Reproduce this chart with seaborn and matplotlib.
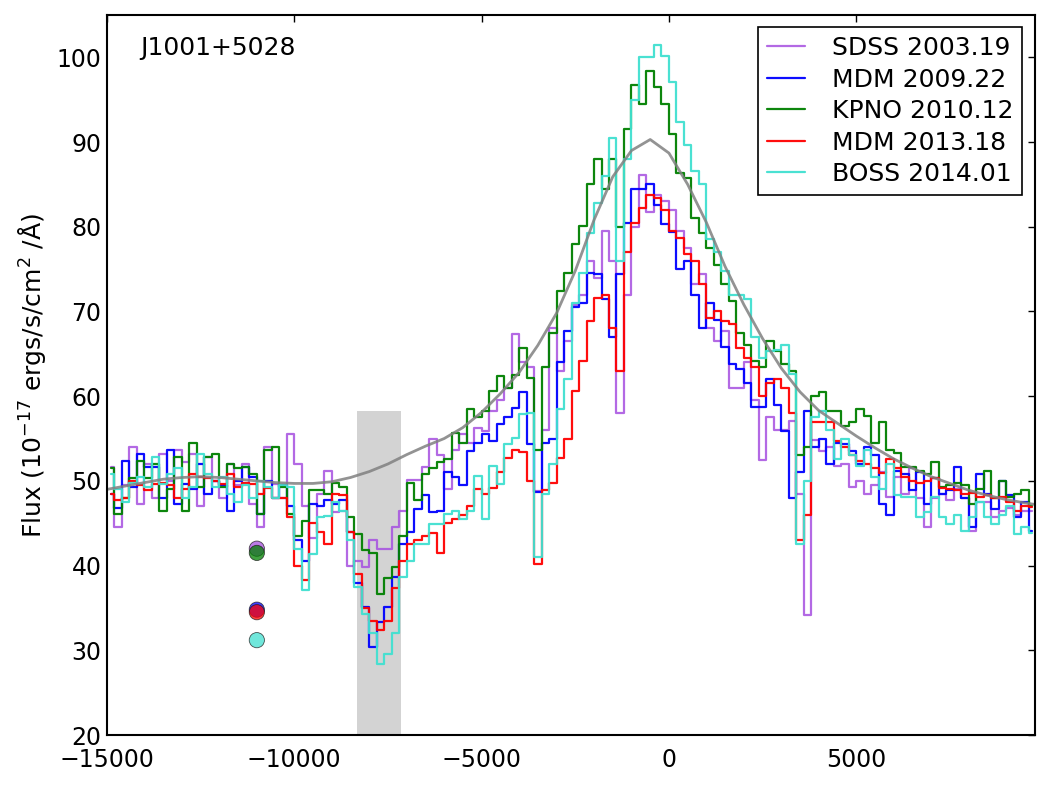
import numpy as np
import matplotlib
matplotlib.use("Agg")
import matplotlib.pyplot as plt
import seaborn as sns

sns.set_theme(style="white")
plt.rcParams['font.family'] = ['DejaVu Sans']
plt.rcParams['font.size'] = 18
plt.rcParams['text.color'] = 'black'
plt.rcParams['axes.labelcolor'] = 'black'
plt.rcParams['xtick.color'] = 'black'
plt.rcParams['ytick.color'] = 'black'
plt.rcParams['xtick.direction'] = 'in'
plt.rcParams['ytick.direction'] = 'in'
plt.rcParams['xtick.top'] = True
plt.rcParams['ytick.right'] = True
plt.rcParams['axes.edgecolor'] = 'black'
plt.rcParams['axes.linewidth'] = 1.5

# bin centres of the spectra (km/s), 200 km/s wide
vel = np.arange(-14900, 9800, 200)

sdss_2003 = [
    51.6, 44.5, 49.5, 54.0, 47.3, 52.0, 48.0, 53.2, 50.0, 53.6,
    52.2, 53.2, 47.0, 52.8, 50.0, 48.0, 52.0, 49.5, 52.0, 47.3,
    44.5, 54.0, 49.6, 48.0, 55.5, 52.0, 47.0, 43.3, 48.5, 51.2,
    46.3, 46.5, 40.0, 40.6, 39.8, 43.0, 42.0, 42.0, 44.5, 46.5,
    50.1, 50.1, 51.6, 55.0, 53.0, 49.0, 53.6, 55.5, 54.5, 56.3,
    55.9, 58.3, 59.5, 61.0, 67.3, 64.0, 63.5, 48.8, 56.0, 68.0,
    63.0, 66.5, 70.8, 72.0, 75.9, 74.0, 79.5, 76.0, 58.0, 72.0,
    80.0, 86.1, 81.8, 83.8, 83.0, 82.0, 79.5, 77.5, 73.2, 74.4,
    68.1, 66.5, 67.7, 61.0, 61.0, 64.0, 59.5, 52.5, 57.5, 56.0,
    56.0, 57.1, 48.5, 34.2, 54.8, 53.5, 54.0, 51.8, 52.0, 49.3,
    50.0, 48.4, 49.5, 51.0, 48.1, 50.5, 48.5, 51.5, 48.0, 44.5,
    48.0, 48.5, 47.8, 49.0, 48.0, 44.1, 47.5, 47.5, 45.7, 46.5,
    46.8, 46.0, 46.5, 46.5,
]

mdm_2009 = [
    48.5, 46.8, 52.4, 49.3, 53.2, 51.6, 51.6, 48.0, 53.6, 47.3,
    49.6, 49.0, 52.0, 48.5, 50.0, 49.5, 46.5, 50.0, 51.6, 50.5,
    46.1, 50.0, 48.0, 49.5, 47.0, 43.0, 40.5, 47.3, 47.0, 47.7,
    47.3, 47.7, 44.0, 38.0, 35.1, 30.4, 33.3, 35.1, 38.6, 42.6,
    44.0, 46.7, 48.3, 46.3, 46.5, 51.0, 50.5, 49.5, 53.5, 54.5,
    55.5, 54.7, 56.7, 57.5, 58.6, 60.5, 54.3, 48.7, 54.5, 55.0,
    64.0, 67.7, 70.5, 71.0, 74.5, 74.4, 71.5, 67.0, 74.4, 80.5,
    84.4, 84.5, 85.0, 82.6, 80.3, 79.4, 75.0, 76.0, 72.0, 68.0,
    71.0, 69.0, 65.8, 63.8, 63.2, 61.5, 58.7, 58.7, 62.0, 59.0,
    55.9, 48.0, 51.0, 58.3, 54.0, 55.0, 52.0, 54.5, 54.3, 53.5,
    52.0, 54.0, 53.0, 47.3, 46.0, 51.2, 50.8, 48.9, 51.0, 47.3,
    50.4, 48.5, 48.9, 51.6, 48.0, 44.5, 50.8, 48.5, 46.7, 50.0,
    48.3, 45.7, 47.5, 44.1,
]

kpno_2010 = [
    51.5, 46.1, 48.0, 50.3, 52.4, 50.4, 52.0, 46.5, 49.0, 52.8,
    46.5, 54.5, 49.3, 52.8, 53.2, 49.3, 52.0, 51.5, 51.6, 50.8,
    46.1, 53.6, 54.0, 49.3, 46.1, 43.5, 45.3, 48.9, 48.9, 48.5,
    49.7, 49.3, 45.7, 43.7, 41.8, 41.5, 36.7, 38.5, 39.8, 43.5,
    49.7, 47.7, 50.8, 51.5, 52.2, 52.6, 55.7, 54.5, 58.5, 57.5,
    58.3, 60.6, 62.4, 61.0, 62.5, 65.7, 62.2, 53.6, 63.5, 67.5,
    72.4, 74.5, 78.0, 80.1, 85.0, 88.0, 84.5, 88.0, 80.0, 91.5,
    96.7, 94.5, 98.4, 96.5, 94.5, 91.0, 86.3, 85.8, 81.0, 79.3,
    77.5, 75.5, 73.2, 71.2, 67.5, 66.1, 64.2, 63.5, 66.5, 65.3,
    63.8, 63.0, 53.0, 54.0, 60.0, 60.5, 58.3, 58.3, 56.5, 57.0,
    58.5, 57.7, 54.5, 56.9, 53.6, 53.3, 51.6, 51.6, 51.2, 50.8,
    52.2, 49.3, 49.5, 49.8, 49.5, 47.3, 49.0, 51.2, 48.0, 50.0,
    48.1, 48.5, 48.9, 47.0,
]

mdm_2013 = [
    48.5, 47.7, 48.0, 50.0, 49.5, 48.9, 49.6, 49.8, 49.5, 48.0,
    49.0, 50.8, 50.5, 50.4, 50.0, 49.6, 50.8, 49.3, 49.8, 49.6,
    48.5, 49.2, 48.0, 48.0, 45.7, 40.0, 38.3, 45.0, 44.0, 42.6,
    48.5, 48.3, 44.0, 39.0, 35.0, 33.5, 32.4, 33.5, 37.4, 40.6,
    42.6, 43.0, 43.5, 43.8, 41.5, 45.0, 45.5, 46.0, 47.0, 49.0,
    48.5, 49.2, 51.0, 52.7, 53.6, 53.4, 50.0, 40.2, 48.9, 49.7,
    52.7, 55.0, 60.6, 64.2, 68.9, 71.6, 72.0, 68.0, 63.0, 77.0,
    80.5, 82.2, 83.8, 83.4, 82.0, 79.5, 78.7, 76.8, 76.0, 73.2,
    69.2, 70.1, 68.9, 68.5, 65.7, 64.5, 63.5, 60.0, 61.5, 62.0,
    61.0, 58.0, 43.0, 46.0, 57.0, 57.0, 57.0, 54.7, 54.0, 53.0,
    52.4, 52.0, 51.5, 50.9, 52.6, 51.5, 50.5, 50.0, 49.7, 50.0,
    50.4, 49.2, 49.0, 48.9, 48.5, 48.6, 48.1, 48.3, 48.0, 48.1,
    47.5, 46.5, 47.0, 46.9,
]

boss_2014 = [
    50.8, 49.0, 47.5, 49.8, 50.5, 49.3, 52.8, 49.6, 50.8, 51.5,
    48.0, 49.3, 53.2, 50.8, 49.3, 50.5, 48.5, 47.5, 49.5, 48.0,
    50.0, 49.3, 48.0, 49.5, 49.3, 42.0, 37.1, 41.4, 45.7, 45.9,
    47.5, 46.5, 43.0, 37.5, 34.3, 32.0, 28.4, 29.6, 32.0, 38.6,
    40.6, 42.6, 42.6, 44.9, 44.9, 46.1, 46.5, 45.5, 46.5, 50.6,
    45.5, 51.7, 49.6, 54.3, 55.1, 57.9, 58.0, 41.0, 48.5, 52.0,
    58.5, 62.0, 71.0, 74.5, 79.3, 82.8, 86.0, 90.5, 76.0, 88.0,
    95.0, 100.0, 100.0, 101.5, 100.2, 97.1, 92.4, 89.7, 86.6, 85.0,
    78.5, 77.0, 74.8, 72.0, 72.0, 71.5, 67.0, 64.5, 65.3, 65.5,
    66.0, 62.6, 42.6, 50.0, 57.5, 58.3, 56.0, 52.6, 54.9, 53.0,
    51.8, 53.7, 50.5, 49.1, 52.0, 48.3, 48.1, 48.1, 45.7, 46.3,
    48.1, 45.7, 44.9, 46.0, 44.1, 45.7, 47.5, 45.7, 44.9, 46.0,
    47.0, 43.7, 44.5, 43.9,
]

# broad-line model
model_vel = [-15000, -14500, -14000, -13500, -13000, -12500, -12000, -11500,
             -11000, -10500, -10000, -9500, -9000, -8500, -8000, -7500,
             -7000, -6500, -6000, -5500, -5000, -4500, -4000, -3500,
             -3000, -2500, -2000, -1500, -1000, -500, 0, 500,
             1000, 1500, 2000, 2500, 3000, 3500, 4000, 4500,
             5000, 5500, 6000, 6500, 7000, 7500, 8000, 8500,
             9000, 9500, 9800]
model_flux = [49.0, 49.4, 49.8, 50.2, 50.4, 50.5, 50.4, 50.2,
              50.0, 49.8, 49.7, 49.7, 49.9, 50.4, 51.1, 52.0,
              53.1, 54.1, 55.0, 56.3, 58.1, 60.3, 62.8, 66.0,
              69.8, 74.8, 80.8, 85.9, 89.0, 90.3, 88.7, 85.0,
              80.5, 75.3, 70.8, 66.8, 63.3, 60.5, 58.3, 56.8,
              55.3, 53.9, 52.6, 51.5, 50.5, 49.7, 48.9, 48.3,
              47.8, 47.4, 47.2]

labels = ['SDSS 2003.19', 'MDM 2009.22', 'KPNO 2010.12', 'MDM 2013.18', 'BOSS 2014.01']
colors = ['#a64fe0', 'blue', 'green', 'red', 'turquoise']
spectra = [sdss_2003, mdm_2009, kpno_2010, mdm_2013, boss_2014]

# trough depth points at one velocity
dot_vel = -11000
dot_flux = [42.0, 34.8, 41.5, 34.5, 31.2]

# shaded absorption window
band_lo, band_hi, band_top = -8330, -7150, 58.2

fig, ax = plt.subplots(figsize=(10.52, 7.89), dpi=100)
fig.subplots_adjust(left=0.1017, right=0.9838, bottom=0.0684, top=0.981)

ax.fill_between([band_lo, band_hi], 20, band_top, color='lightgray', lw=0, zorder=0)

for flux, lab, col in zip(spectra, labels, colors):
    sns.lineplot(x=vel, y=flux, ax=ax, color=col, lw=1.6, label=lab,
                 drawstyle='steps-mid', alpha=0.95 if col != '#a64fe0' else 0.85)

sns.lineplot(x=model_vel, y=model_flux, ax=ax, color='gray', lw=2, alpha=0.85)

sns.scatterplot(x=[dot_vel] * len(dot_flux), y=dot_flux, hue=labels, palette=colors,
                legend=False, s=120, edgecolor='k', linewidth=0.6, alpha=0.75,
                zorder=5, ax=ax)

ax.text(0.036, 0.954, 'J1001+5028', transform=ax.transAxes, fontsize=18,
        va='center', color='black')

ax.set_xlim(-15000, 9770)
ax.set_ylim(20, 105)
ax.set_xticks([-15000, -10000, -5000, 0, 5000])
ax.set_yticks(range(20, 101, 10))
ax.tick_params(length=5, width=1, labelsize=17, colors='black')
ax.tick_params(axis='x', pad=9)
ax.tick_params(axis='y', pad=4)
ax.set_xlabel('')
ax.set_ylabel('Flux (10$^{-17}$ ergs/s/cm$^2$ /Å)', fontsize=18, labelpad=6,
              color='black')

leg = ax.legend(loc='upper right', fontsize=18, frameon=True, fancybox=False,
                framealpha=1, edgecolor='black', handlelength=1.5,
                handletextpad=1.1, labelspacing=0.3, borderaxespad=0.5,
                borderpad=0.35)
leg.get_frame().set_linewidth(1.2)
for t in leg.get_texts():
    t.set_color('black')

plt.savefig('out.png', dpi=100)
